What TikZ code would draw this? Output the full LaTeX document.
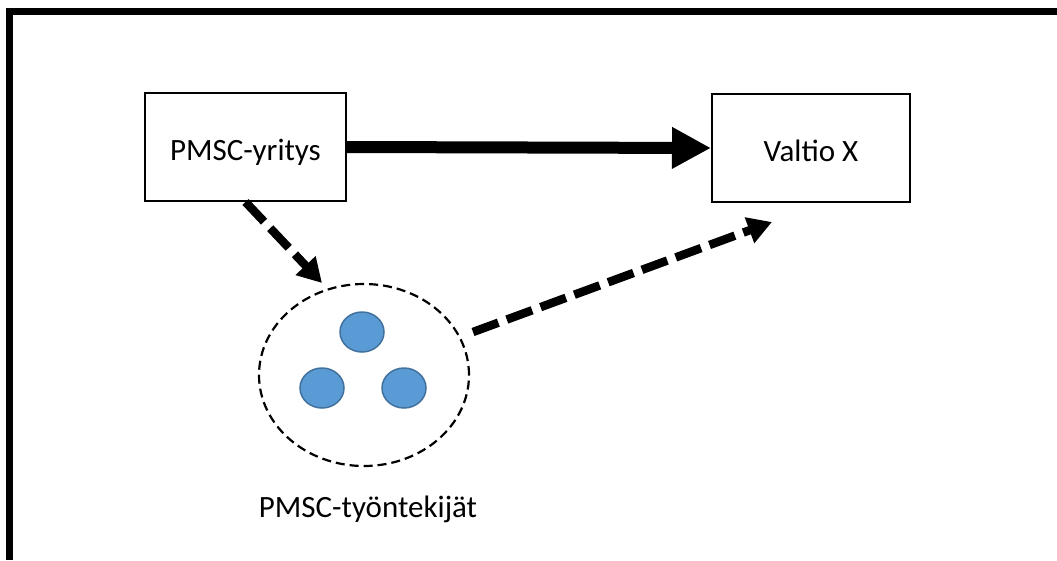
\documentclass[tikz,border=0pt]{standalone}
\usepackage{fontspec}
\setmainfont{Carlito}
\usetikzlibrary{arrows.meta,shapes.geometric}
\definecolor{dotfill}{HTML}{5B9BD5}
\definecolor{dotline}{HTML}{41719C}
\begin{document}
\begin{tikzpicture}[x=1pt,y=-1pt,
  every node/.style={font=\fontsize{31pt}{37pt}\selectfont},
  actor/.style={draw,line width=2pt,inner sep=0pt,minimum height=108pt,
    text height=30pt,text depth=4pt},
  solidflow/.style={line width=12pt,-{Triangle[length=39pt,width=39pt]}},
  dashflow/.style={line width=8.5pt,dash pattern=on 27pt off 9pt,
    -{Triangle[length=24pt,width=26pt]}},
  group/.style={draw,ellipse,line width=2.2pt,dash pattern=on 9pt off 5pt,
    minimum width=210pt,minimum height=182pt,inner sep=0pt},
  person/.style={draw=dotline,fill=dotfill,ellipse,line width=1.5pt,
    minimum width=44pt,minimum height=40pt,inner sep=0pt}]
  \useasboundingbox (0,0) rectangle (1057,560);
  % frame along the top and left edges
  \draw[line width=7pt] (9.5,560) -- (9.5,11.5) -- (1057,11.5);

  % the company and the state
  \node[actor,minimum width=201pt] (firm) at (245.5,147) {PMSC-yritys};
  \node[actor,minimum width=198pt] (state) at (811,148) {Valtio X};

  % the group of employees
  \node[group] (staff) at (364,375) {};
  \node[person] (p1) at (362,332) {};
  \node[person] (p2) at (322,388) {};
  \node[person] (p3) at (404,388) {};
  \node[anchor=base] (stafflabel) at (368,517) {PMSC-työntekijät};

  % connector end points
  \coordinate (inTip) at (322,283);
  \coordinate (outStart) at (473,332);
  \coordinate (outTip) at (772,222);

  % relations
  \draw[solidflow] (firm.east) -- (state.west);
  \draw[dashflow] (firm.south) -- (inTip);
  \draw[dashflow] (outStart) -- (outTip);
\end{tikzpicture}
\end{document}
